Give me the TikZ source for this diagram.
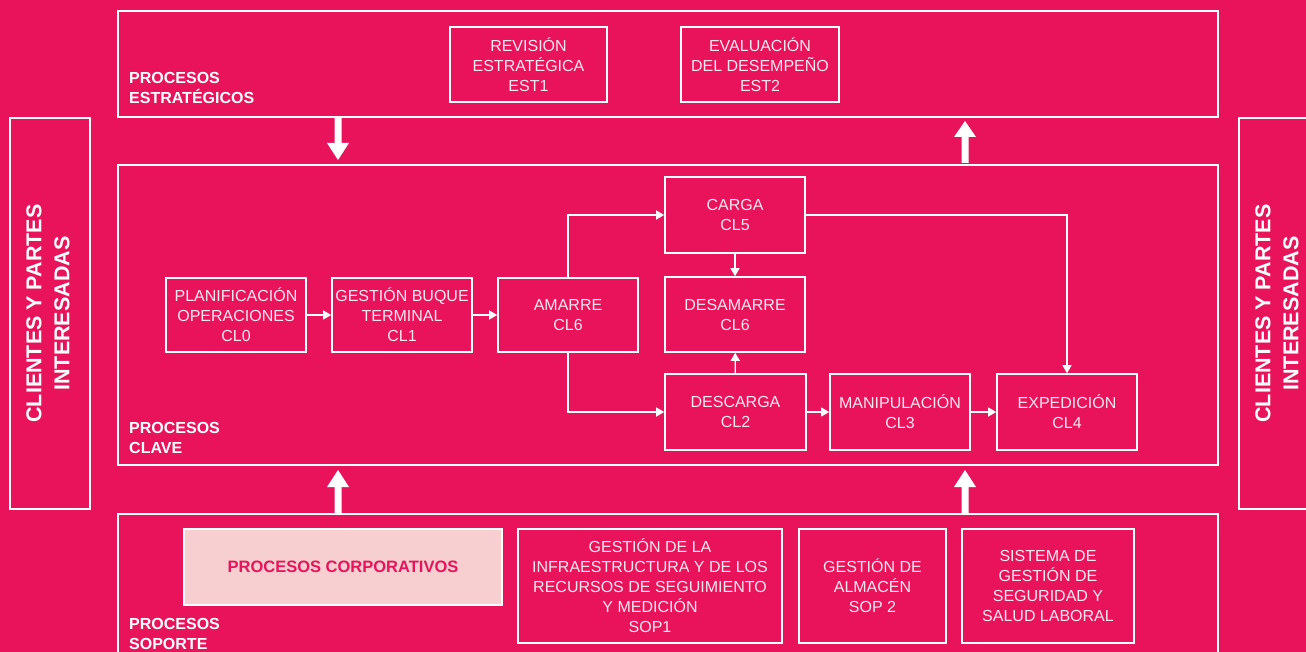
\documentclass[tikz,border=0pt]{standalone}
\usepackage{fontspec}
\setmainfont{Liberation Sans}
\usetikzlibrary{arrows.meta}
\definecolor{bgc}{RGB}{232,19,90}
\definecolor{textc}{RGB}{252,232,238}
\definecolor{lightc}{RGB}{248,207,208}
\tikzset{
  box/.style={draw=white, line width=1.6pt, align=center, text=textc, inner sep=0pt,
    font=\fontsize{16}{20}\selectfont},
  frame/.style={draw=white, line width=1.6pt},
  lbl/.style={anchor=west, align=left, text=white, inner sep=0pt,
    font=\bfseries\fontsize{16}{20}\selectfont},
  conn/.style={draw=white, line width=1.3pt, -{Triangle[length=8pt,width=9pt]}},
}
\begin{document}
\begin{tikzpicture}[x=1pt,y=-1pt]
\fill[bgc] (0,0) rectangle (1306,652);
\useasboundingbox (0,0) rectangle (1306,652);
% containers
\draw[frame] (118,11) rectangle (1218,117);
\draw[frame] (118,165) rectangle (1218,465);
\draw[frame] (118,514) rectangle (1218,670);
\draw[frame] (10,118) rectangle (90,509);
\draw[frame] (1239,118) rectangle (1320,509);
% side labels
\node[rotate=90, align=center, text=white, font=\bfseries\fontsize{21.5}{28}\selectfont] (cl) at (48,313.5) {CLIENTES Y PARTES\\INTERESADAS};
\node[rotate=90, align=center, text=white, font=\bfseries\fontsize{21.5}{28}\selectfont] (cr) at (1277,313.5) {CLIENTES Y PARTES\\INTERESADAS};
% section labels
\node[lbl] (le) at (129,88) {PROCESOS\\ESTRATÉGICOS};
\node[lbl] (lk) at (129,438) {PROCESOS\\CLAVE};
\node[lbl] (ls) at (129,634) {PROCESOS\\SOPORTE};
% strategic
\node[box, minimum width=157pt, minimum height=75pt] (rev) at (528.5,64.5) {REVISIÓN\\ESTRATÉGICA\\EST1};
\node[box, minimum width=158pt, minimum height=75pt] (eva) at (760,64.5) {EVALUACIÓN\\DEL DESEMPEÑO\\EST2};
% key
\node[box, minimum width=140pt, minimum height=74pt] (cl0) at (236,315) {PLANIFICACIÓN\\OPERACIONES\\CL0};
\node[box, minimum width=140pt, minimum height=74pt] (cl1) at (402,315) {GESTIÓN BUQUE\\TERMINAL\\CL1};
\node[box, minimum width=140pt, minimum height=74pt] (am) at (568,315) {AMARRE\\CL6};
\node[box, minimum width=140pt, minimum height=76pt] (cl5) at (735,215) {CARGA\\CL5};
\node[box, minimum width=140pt, minimum height=75pt] (des) at (735,314.5) {DESAMARRE\\CL6};
\node[box, minimum width=141pt, minimum height=76pt] (cl2) at (735.5,412) {DESCARGA\\CL2};
\node[box, minimum width=140pt, minimum height=76pt] (cl3) at (900,412) {MANIPULACIÓN\\CL3};
\node[box, minimum width=140pt, minimum height=76pt] (cl4) at (1067,412) {EXPEDICIÓN\\CL4};
% support
\node[box, fill=lightc, text=bgc, font=\bfseries\fontsize{16.5}{20}\selectfont, minimum width=318pt, minimum height=76pt] (corp) at (343,567) {PROCESOS CORPORATIVOS};
\node[box, minimum width=264pt, minimum height=114pt] (sop1) at (650,586) {GESTIÓN DE LA\\INFRAESTRUCTURA Y DE LOS\\RECURSOS DE SEGUIMIENTO\\Y MEDICIÓN\\SOP1};
\node[box, minimum width=147pt, minimum height=114pt] (sop2) at (872.5,586) {GESTIÓN DE\\ALMACÉN\\SOP 2};
\node[box, minimum width=172pt, minimum height=114pt] (ssl) at (1048,586) {SISTEMA DE\\GESTIÓN DE\\SEGURIDAD Y\\SALUD LABORAL};
% connectors
\draw[conn] (cl0) -- (cl1);
\draw[conn] (cl1) -- (am);
\draw[conn] (am.north) |- (cl5.west);
\draw[conn] (am.south) |- (cl2.west);
\draw[conn] (cl5.east) -| (cl4.north);
\draw[conn] (cl5) -- (des);
\draw[conn] (cl2) -- (des);
\draw[conn] (cl2) -- (cl3);
\draw[conn] (cl3) -- (cl4);
% big arrows
\coordinate (d1) at (338,118);
\fill[white] (d1) ++(-3.5,0) -- ++(0,25) -- ++(-7.5,0) -- (338,160) -- (349,143) -- ++(-7.5,0) -- ++(0,-25) -- cycle;
\coordinate (u1) at (965,163);
\fill[white] (u1) ++(-3.5,0) -- ++(0,-26) -- ++(-7.5,0) -- (965,121) -- (976,137) -- ++(-7.5,0) -- ++(0,26) -- cycle;
\coordinate (u2) at (338,514);
\fill[white] (u2) ++(-3.5,0) -- ++(0,-27) -- ++(-7.5,0) -- (338,470) -- (349,487) -- ++(-7.5,0) -- ++(0,27) -- cycle;
\coordinate (u3) at (965,514);
\fill[white] (u3) ++(-3.5,0) -- ++(0,-27) -- ++(-7.5,0) -- (965,470) -- (976,487) -- ++(-7.5,0) -- ++(0,27) -- cycle;
\end{tikzpicture}
\end{document}
